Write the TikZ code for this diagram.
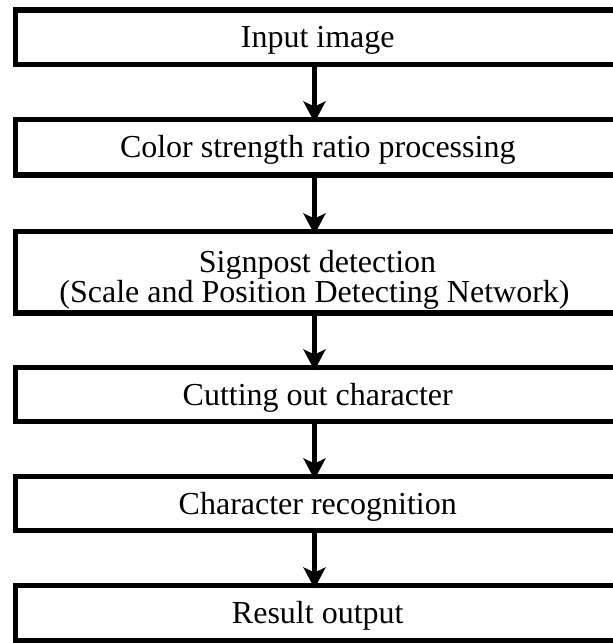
\documentclass[tikz,border=0pt]{standalone}
\usepackage{fontspec}
\setmainfont{Liberation Serif}
\usetikzlibrary{arrows.meta}
\tikzset{
  stage/.style={draw, line width=5.5pt, outer sep=0pt, inner sep=0pt,
    minimum width=604.5pt, anchor=north west, align=center,
    text height=25pt, text depth=4pt,
    font=\fontsize{32}{30}\selectfont},
  caption/.style={inner sep=0pt, anchor=base, font=\fontsize{32}{30}\selectfont},
  flow/.style={line width=5pt, shorten >=-3pt,
    -{Stealth[length=21pt, width=22pt, inset=5pt]}}
}
\begin{document}
\begin{tikzpicture}[x=1pt, y=-1pt]
  \useasboundingbox (0,0) rectangle (613,643);
  \clip (0,0) rectangle (613,643);
  % processing stages, top to bottom
  \node[stage, minimum height=54.5pt] (b1) at (15.5,10) {Input image};
  \node[stage, minimum height=55.5pt] (b2) at (15.5,119.5) {Color strength ratio processing};
  \node[stage, minimum height=81.5pt] (b3) at (15.5,231.5) {};
  \node[caption] (t3a) at (317.5,272) {Signpost detection};
  \node[caption] (t3b) at (314.5,302) {(Scale and Position Detecting Network)};
  \node[stage, minimum height=54pt] (b4) at (15.5,367.5) {Cutting out character};
  \node[stage, minimum height=54pt] (b5) at (15.5,476.5) {Character recognition};
  \node[stage, minimum height=55pt] (b6) at (15.5,585.5) {Result output};
  % vertical flow line
  \coordinate (ax) at (314.5,0);
  \draw[flow] (b1.south -| ax) -- (b2.north -| ax);
  \draw[flow] (b2.south -| ax) -- (b3.north -| ax);
  \draw[flow] (b3.south -| ax) -- (b4.north -| ax);
  \draw[flow] (b4.south -| ax) -- (b5.north -| ax);
  \draw[flow] (b5.south -| ax) -- (b6.north -| ax);
\end{tikzpicture}
\end{document}
